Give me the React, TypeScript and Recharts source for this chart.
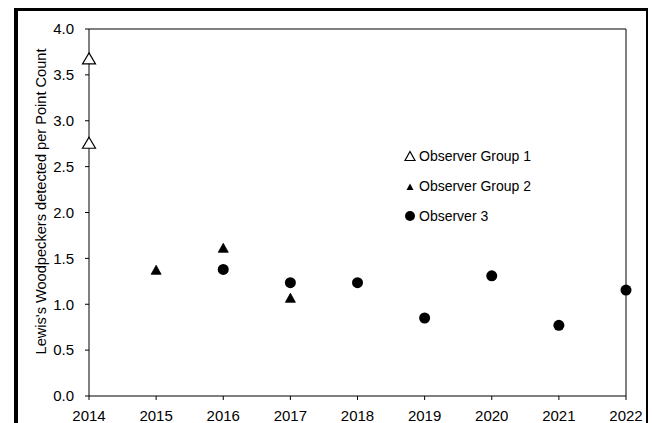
import { ScatterChart, Scatter, XAxis, YAxis, ReferenceLine } from 'recharts';

// values
const group1Years = [2014, 2014];
const group1Values = [3.68, 2.76];
const group2Years = [2015, 2016, 2017];
const group2Values = [1.37, 1.61, 1.065];
const observer3Years = [2016, 2017, 2018, 2019, 2020, 2021, 2022];
const observer3Values = [1.38, 1.235, 1.235, 0.85, 1.31, 0.77, 1.155];

const xTicks = [2014, 2015, 2016, 2017, 2018, 2019, 2020, 2021, 2022];
const yTicks = [0, 0.5, 1, 1.5, 2, 2.5, 3, 3.5, 4];

const FONT = 'Arial, "Liberation Sans", sans-serif';

const toPoints = (xs: number[], ys: number[]) => xs.map((x, i) => ({ year: x, value: ys[i] }));

const OpenTriangle = ({ cx, cy }: any) => (
  <path d={`M${cx},${cy - 5.5} L${cx + 6.5},${cy + 5.5} L${cx - 6.5},${cy + 5.5} Z`} fill="#fff" stroke="#000" strokeWidth={1.2} />
);

const SmallTriangle = ({ cx, cy }: any) => (
  <path d={`M${cx},${cy - 5} L${cx + 5},${cy + 4} L${cx - 5},${cy + 4} Z`} fill="#000" stroke="#000" strokeWidth={0.8} />
);

const Dot = ({ cx, cy }: any) => <circle cx={cx} cy={cy} r={5.5} fill="#000" />;

const legendItems = [
  { name: 'Observer Group 1', mark: 'open' },
  { name: 'Observer Group 2', mark: 'small' },
  { name: 'Observer 3', mark: 'dot' },
];

function LegendBox() {
  return (
    <div style={{ position: 'absolute', left: 404, top: 141, fontFamily: FONT, fontSize: 14, color: '#000' }}>
      {legendItems.map((item) => (
        <div key={item.name} style={{ display: 'flex', alignItems: 'center', height: 30 }}>
          <svg width={14} height={14} style={{ marginRight: 1 }}>
            {item.mark === 'open' && <path d="M6,2.5 L11,11.5 L1,11.5 Z" fill="#fff" stroke="#000" strokeWidth={1.2} />}
            {item.mark === 'small' && <path d="M6,4.5 L9.5,11 L2.5,11 Z" fill="#000" />}
            {item.mark === 'dot' && <circle cx={6} cy={7} r={5} fill="#000" />}
          </svg>
          <span>{item.name}</span>
        </div>
      ))}
    </div>
  );
}

export default function App() {
  return (
    <div style={{ position: 'fixed', left: 0, top: 0, width: 653, height: 423, overflow: 'hidden', background: '#fff' }}>
      {/* outer frame, cut off at the bottom like the reference */}
      <div
        style={{
          position: 'absolute',
          left: 14,
          top: 8,
          width: 628,
          height: 500,
          borderLeft: '4px solid #000',
          borderTop: '3px solid #000',
          borderRight: '2px solid #000',
        }}
      />
      <div style={{ position: 'absolute', left: 0, top: 0 }}>
        <ScatterChart width={653} height={423} margin={{ top: 29, right: 27, bottom: 0, left: 0 }}>
          <XAxis
            type="number"
            dataKey="year"
            domain={[2014, 2022]}
            ticks={xTicks}
            height={27}
            tickSize={4}
            tickMargin={10}
            stroke="#000"
            tick={{ fill: '#000', fontSize: 15, fontFamily: FONT }}
            interval={0}
          />
          <YAxis
            type="number"
            dataKey="value"
            domain={[0, 4]}
            ticks={yTicks}
            width={89}
            tickSize={4}
            tickMargin={11}
            stroke="#000"
            tickFormatter={(v: number) => v.toFixed(1)}
            tick={{ fill: '#000', fontSize: 15, fontFamily: FONT }}
            interval={0}
            label={{
              value: "Lewis's Woodpeckers detected per Point Count",
              angle: -90,
              position: 'insideLeft',
              offset: 41,
              dy: -11,
              style: { textAnchor: 'middle', fontSize: 14.6, fontFamily: FONT, fill: '#000' },
            }}
          />
          <ReferenceLine y={4} stroke="#000" />
          <ReferenceLine x={2022} stroke="#000" />
          <Scatter name="Observer Group 1" data={toPoints(group1Years, group1Values)} shape={<OpenTriangle />} isAnimationActive={false} />
          <Scatter name="Observer Group 2" data={toPoints(group2Years, group2Values)} shape={<SmallTriangle />} isAnimationActive={false} />
          <Scatter name="Observer 3" data={toPoints(observer3Years, observer3Values)} shape={<Dot />} isAnimationActive={false} />
        </ScatterChart>
      </div>
      <LegendBox />
    </div>
  );
}
